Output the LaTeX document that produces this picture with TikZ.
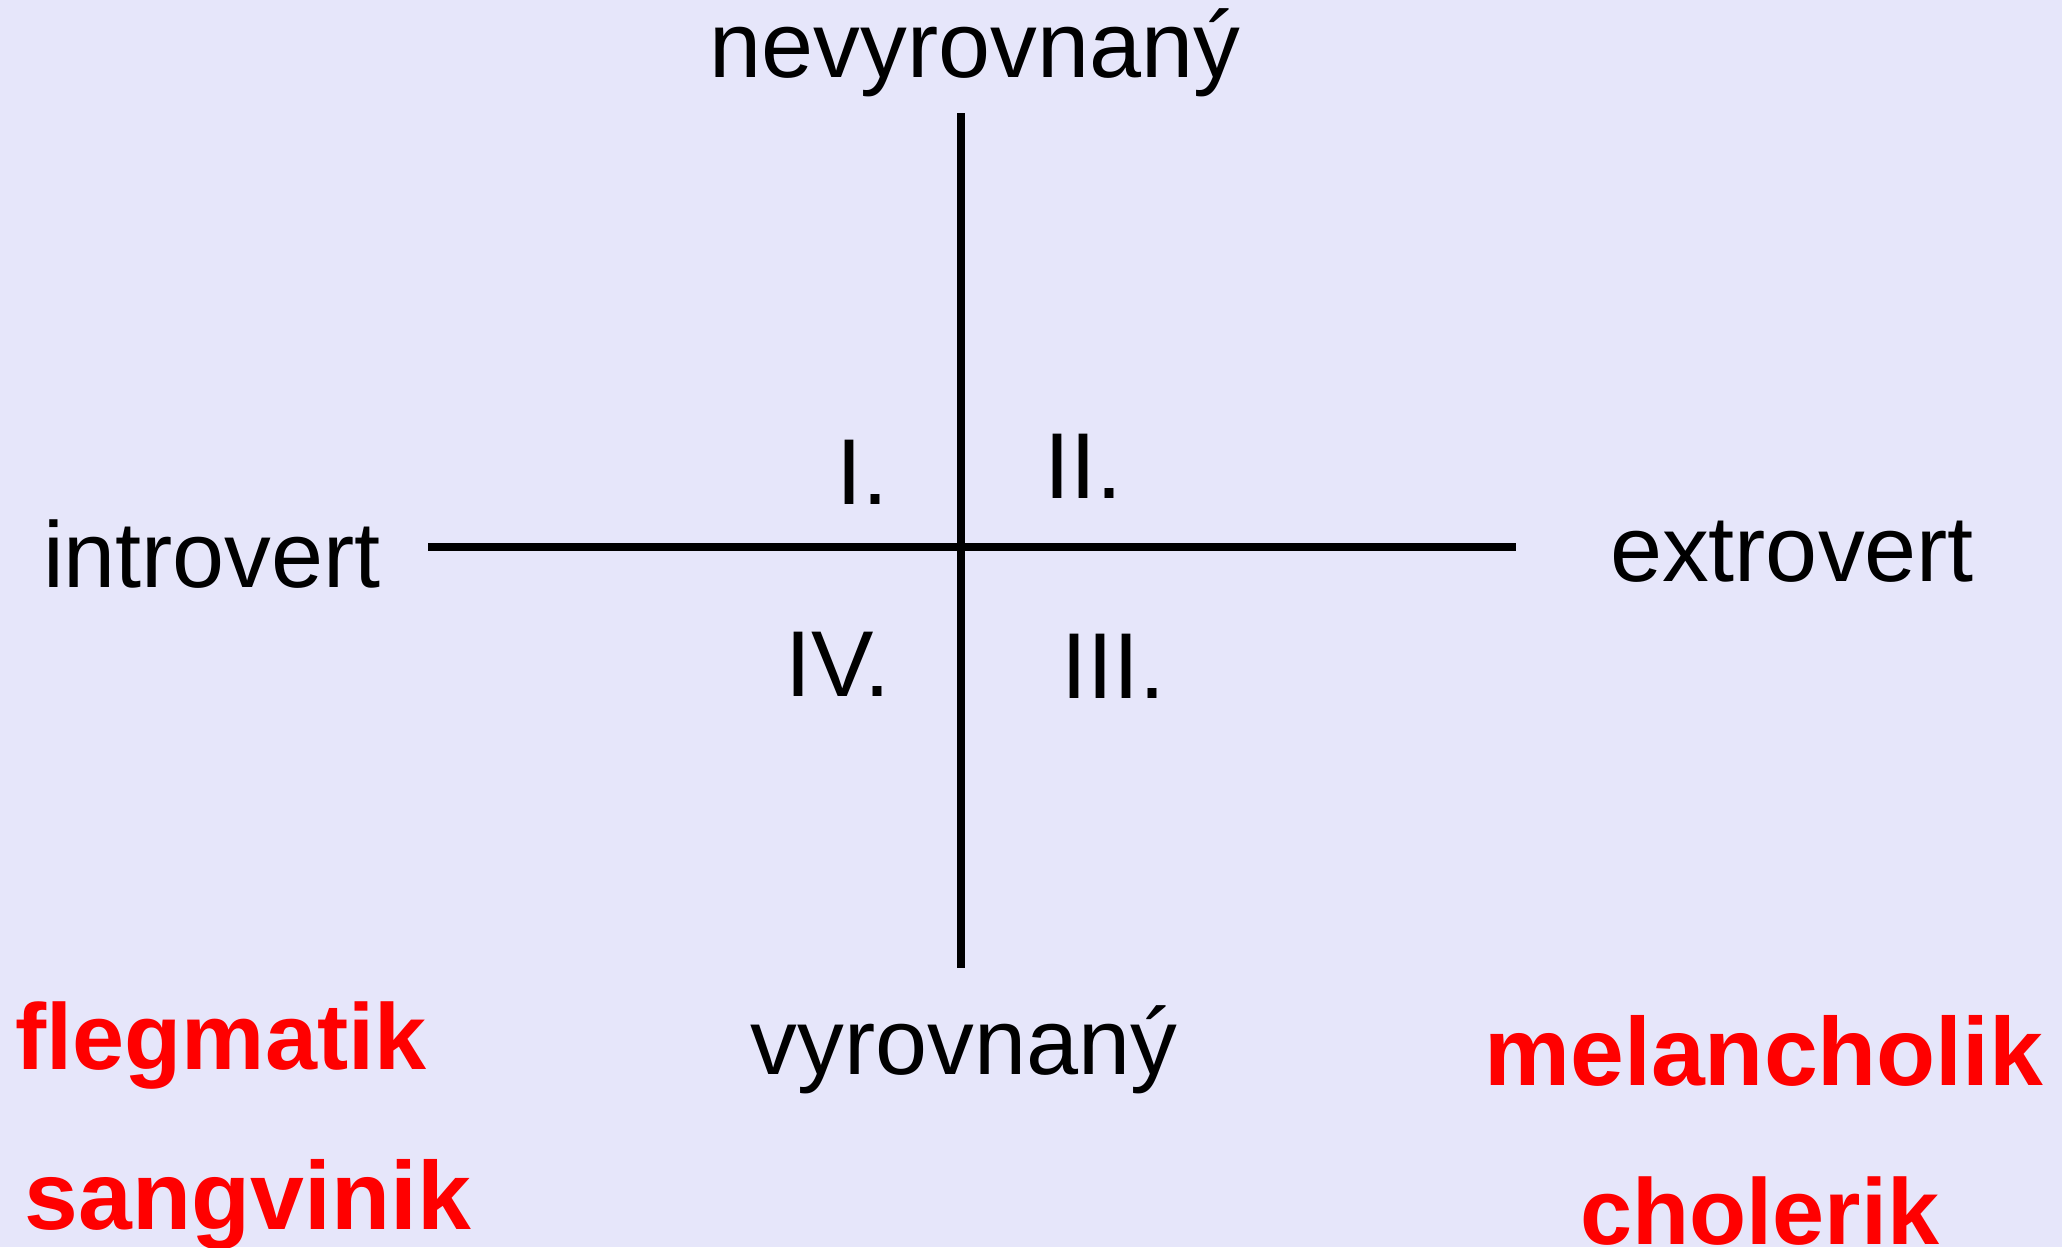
\documentclass[tikz,border=0pt]{standalone}
\usepackage{fontspec}
\setmainfont{Liberation Sans}
\definecolor{bglavender}{HTML}{E6E6FA}
\definecolor{typered}{HTML}{FF0000}

\begin{document}
\begin{tikzpicture}[x=0.01cm, y=-0.01cm,
    axislabel/.style={inner sep=0pt, anchor=base, font=\fontsize{26.6}{32}\selectfont},
    quadrant/.style={axislabel},
    temper/.style={axislabel, font=\fontsize{26.6}{32}\selectfont\bfseries, text=typered},
    tempbig/.style={temper, font=\fontsize{27.5}{33}\selectfont\bfseries},
    axis/.style={line width=0.08cm, color=black}
]
% --- background ---
\fill[bglavender] (0,0) rectangle (2062,1247);
\useasboundingbox (0,0) rectangle (2062,1247);

% --- axes ---
\coordinate (top)    at (961,113);
\coordinate (bottom) at (961,968);
\coordinate (left)   at (428,547);
\coordinate (right)  at (1516,547);
\draw[axis] (top) -- (bottom);
\draw[axis] (left) -- (right);

% --- axis labels ---
\node[axislabel] (nevyr) at (975,77)   {nevyrovnaný};
\node[axislabel] (vyr)   at (964,1074) {vyrovnaný};
\node[axislabel] (intro) at (212,587)  {introvert};
\node[axislabel] (extro) at (1792,581) {extrovert};

% --- quadrants ---
\node[quadrant] (q1) at (862,504)  {I.};
\node[quadrant] (q2) at (1083,498) {II.};
\node[quadrant] (q4) at (838,696)  {IV.};
\node[quadrant] (q3) at (1113,698) {III.};

% --- temperaments ---
\node[temper]  (fleg) at (221,1069)  {flegmatik};
\node[tempbig] (sang) at (248,1229)  {sangvinik};
\node[tempbig] (mel)  at (1764,1085) {melancholik};
\node[temper]  (chol) at (1760,1244) {cholerik};

\end{tikzpicture}
\end{document}
